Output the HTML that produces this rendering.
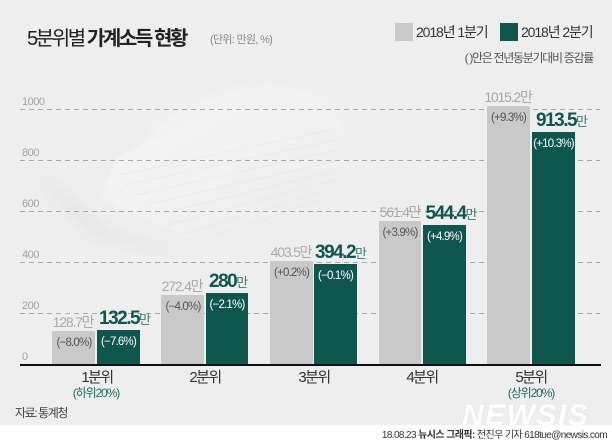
<!DOCTYPE html>
<html><head><meta charset="utf-8">
<style>
*{margin:0;padding:0;box-sizing:border-box}
html,body{width:612px;height:446px;overflow:hidden;background:#fff}
body{position:relative;font-family:"Liberation Sans","Noto Sans CJK KR",sans-serif}
#bg{position:absolute;left:0;top:0;width:612px;height:425px;background:#eeeeee}
.t{position:absolute;white-space:nowrap}
.ax{font-size:11px;line-height:11px;color:#a3a3a3;letter-spacing:-0.5px;left:22px}
.bar{position:absolute}
.g{background:#c9c9c9}
.d{background:#0f564f}
.gv{font-size:14px;line-height:14px;color:#a9a9a9;letter-spacing:-1.2px;transform:translateX(-50%)}
.dv{font-size:19px;line-height:19px;color:#0f564f;font-weight:bold;letter-spacing:-1.5px}
.dv span{font-size:13px;font-weight:normal;color:#3a7a70;letter-spacing:0}
.pc{font-size:11.5px;line-height:12px;letter-spacing:-0.8px;transform:translateX(-50%)}
.pg{color:#555}
.pd{color:#fff}
.cat{font-size:15px;line-height:16px;color:#333;letter-spacing:-1.6px;transform:translateX(-50%)}
.sub{font-size:12px;line-height:13px;color:#1c6b60;letter-spacing:-1.1px;transform:translateX(-50%)}
</style></head><body>
<div id="bg"></div>

<svg style="position:absolute;left:0;top:0" width="612" height="446">
<defs>
<filter id="bl" x="-20%" y="-20%" width="140%" height="140%"><feGaussianBlur stdDeviation="6"/></filter>
<filter id="bl2"><feGaussianBlur stdDeviation="1.2"/></filter>
<linearGradient id="pg" x1="0" y1="0" x2="1" y2="1">
<stop offset="0" stop-color="#f6f6f6"/><stop offset="1" stop-color="#ececec"/></linearGradient>
</defs>
<path d="M40,175 Q80,200 110,230 L190,255 L100,240 Q60,215 40,175 Z" fill="#e4e4e4" filter="url(#bl)" opacity="0.7"/>
<path d="M150,130 Q230,75 300,88 Q330,95 345,140 L300,130 L150,150 Z" fill="#f3f3f3" filter="url(#bl)"/>
<path d="M100,197 L118,157 L150,140 L260,100 L330,110 L350,165 L330,195 L210,250 Z" fill="url(#pg)" filter="url(#bl2)"/>
<g stroke="#e6e6e6" stroke-width="0.7" fill="none" opacity="0.8">
<path d="M120,175 L330,130"/><path d="M125,185 L335,140"/><path d="M135,195 L338,150"/>
<path d="M145,205 L340,160"/><path d="M155,215 L340,170"/><path d="M168,225 L335,180"/>
<path d="M180,235 L330,190"/><path d="M195,243 L320,200"/>
</g>
<g stroke="#a9a9a9" stroke-width="1" stroke-dasharray="5 4">
<line x1="20" y1="109.5" x2="600" y2="109.5"/>
<line x1="20" y1="160.5" x2="600" y2="160.5"/>
<line x1="20" y1="211.5" x2="600" y2="211.5"/>
<line x1="20" y1="262.5" x2="600" y2="262.5"/>
<line x1="20" y1="313.5" x2="600" y2="313.5"/>
</g>
</svg>

<div class="t" style="left:27px;top:29px;font-size:20px;line-height:20px;color:#222;letter-spacing:-2.4px">5분위별 <b>가계소득 현황</b></div>
<div class="t" style="left:210px;top:34px;font-size:11px;line-height:12px;color:#888;letter-spacing:-0.7px">(단위: 만원, %)</div>

<div style="position:absolute;left:395px;top:23px;width:18px;height:18px;background:#c9c9c9"></div>
<div class="t" style="left:416px;top:24px;font-size:14px;line-height:16px;color:#333;letter-spacing:-1.1px">2018년 1분기</div>
<div style="position:absolute;left:500px;top:23px;width:18px;height:18px;background:#0f564f"></div>
<div class="t" style="left:521px;top:24px;font-size:14px;line-height:16px;color:#333;letter-spacing:-1.1px">2018년 2분기</div>
<div class="t" style="right:19px;top:52px;font-size:12px;line-height:13px;color:#555;letter-spacing:-1.3px">( )안은 전년동분기대비 증감률</div>

<div class="t ax" style="top:96.5px">1000</div>
<div class="t ax" style="top:147.5px">800</div>
<div class="t ax" style="top:198.5px">600</div>
<div class="t ax" style="top:249.5px">400</div>
<div class="t ax" style="top:300.5px">200</div>
<div class="t ax" style="top:352px">0</div>

<!-- bars -->
<div class="bar g" style="left:52px;top:331.2px;width:42.5px;height:32.8px"></div>
<div class="bar d" style="left:97px;top:330.3px;width:42.5px;height:33.7px"></div>
<div class="bar g" style="left:161px;top:294.7px;width:42.5px;height:69.3px"></div>
<div class="bar d" style="left:205.5px;top:292.7px;width:42.5px;height:71.3px"></div>
<div class="bar g" style="left:270px;top:261.3px;width:42.5px;height:102.7px"></div>
<div class="bar d" style="left:314px;top:263.7px;width:42.5px;height:100.3px"></div>
<div class="bar g" style="left:378.5px;top:221.1px;width:42.5px;height:142.9px"></div>
<div class="bar d" style="left:423px;top:225.4px;width:42.5px;height:138.6px"></div>
<div class="bar g" style="left:487px;top:105.6px;width:42.5px;height:258.4px"></div>
<div class="bar d" style="left:532px;top:131.5px;width:42.5px;height:232.5px"></div>
<div style="position:absolute;left:20px;top:364px;width:581px;height:2px;background:#111"></div>

<!-- gray values -->
<div class="t gv" style="left:73px;top:315.2px">128.7만</div>
<div class="t gv" style="left:182px;top:278.7px">272.4만</div>
<div class="t gv" style="left:291px;top:245.3px">403.5만</div>
<div class="t gv" style="left:400px;top:205.1px">561.4만</div>
<div class="t gv" style="left:508px;top:89.6px">1015.2만</div>

<!-- green values -->
<div class="t dv" style="left:99px;top:309.3px">132.5<span>만</span></div>
<div class="t dv" style="left:209px;top:271.7px">280<span>만</span></div>
<div class="t dv" style="left:315px;top:242.7px">394.2<span>만</span></div>
<div class="t dv" style="left:425.5px;top:204.4px">544.4<span>만</span></div>
<div class="t dv" style="left:536px;top:110.5px">913.5<span>만</span></div>

<!-- percents -->
<div class="t pc pg" style="left:74px;top:337.2px">(−8.0%)</div>
<div class="t pc pd" style="left:118.5px;top:336.3px">(−7.6%)</div>
<div class="t pc pg" style="left:183px;top:300.7px">(−4.0%)</div>
<div class="t pc pd" style="left:227px;top:298.7px">(−2.1%)</div>
<div class="t pc pg" style="left:291.5px;top:267.3px">(+0.2%)</div>
<div class="t pc pd" style="left:335.5px;top:269.7px">(−0.1%)</div>
<div class="t pc pg" style="left:400px;top:227.1px">(+3.9%)</div>
<div class="t pc pd" style="left:444.5px;top:231.4px">(+4.9%)</div>
<div class="t pc pg" style="left:508.5px;top:111.6px">(+9.3%)</div>
<div class="t pc pd" style="left:553.5px;top:137.5px">(+10.3%)</div>

<!-- categories -->
<div class="t cat" style="left:97px;top:370px">1분위</div>
<div class="t sub" style="left:96px;top:387px">(하위20%)</div>
<div class="t cat" style="left:205px;top:370px">2분위</div>
<div class="t cat" style="left:314px;top:370px">3분위</div>
<div class="t cat" style="left:422px;top:370px">4분위</div>
<div class="t cat" style="left:531px;top:370px">5분위</div>
<div class="t sub" style="left:531px;top:387px">(상위20%)</div>

<div class="t" style="left:15px;top:407px;font-size:12px;line-height:13px;color:#444;letter-spacing:-1.4px">자료: 통계청</div>

<div class="t" style="left:462px;top:401px;font-size:30px;line-height:30px;font-weight:bold;font-style:italic;color:#ffffff;letter-spacing:1.5px;text-shadow:0 0 1px #cfcfcf">NEWSIS</div>

<div class="t" style="right:5px;top:430px;font-size:10px;line-height:12px;color:#333;letter-spacing:-0.6px">18.08.23 <b>뉴시스 그래픽:</b> 전진우 기자 618tue@newsis.com</div>
</body></html>
